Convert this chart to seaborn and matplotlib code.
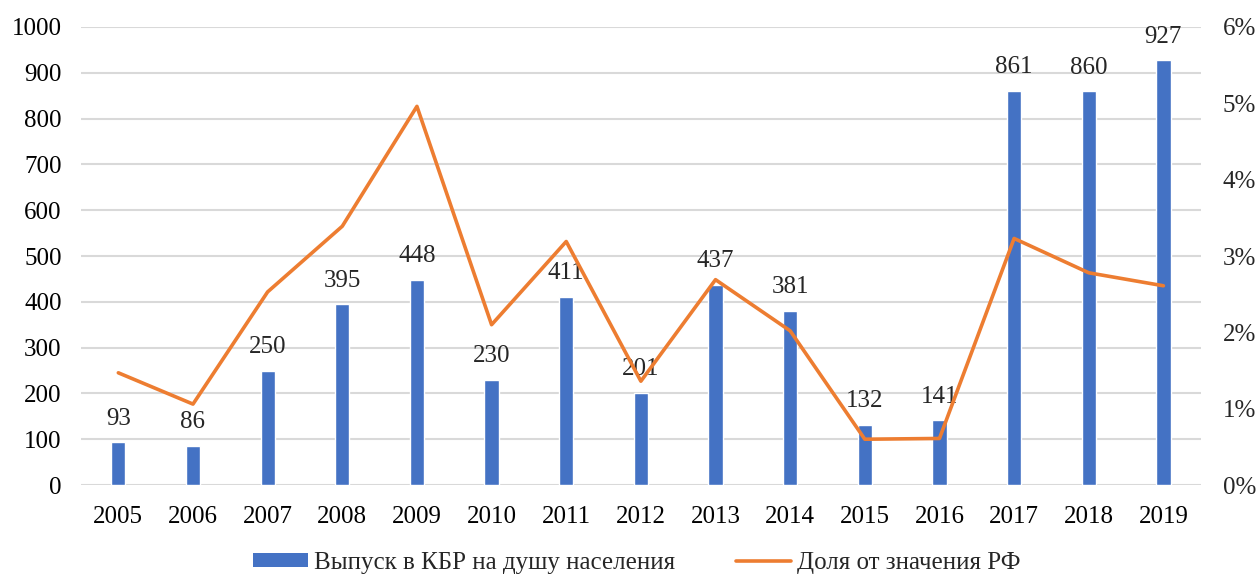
import matplotlib
matplotlib.use("Agg")
import matplotlib.pyplot as plt
import seaborn as sns
import pandas as pd
from matplotlib.ticker import PercentFormatter, MultipleLocator
from matplotlib.patches import Patch
from matplotlib.lines import Line2D

years = ["2005", "2006", "2007", "2008", "2009", "2010", "2011", "2012",
         "2013", "2014", "2015", "2016", "2017", "2018", "2019"]
output_per_capita = [93, 86, 250, 395, 448, 230, 411, 201, 437, 381, 132, 141, 861, 860, 927]
share_rf = [1.47, 1.06, 2.53, 3.39, 4.96, 2.10, 3.19, 1.36, 2.69, 2.02, 0.60, 0.61, 3.23, 2.78, 2.61]

bar_label = "Выпуск в КБР на душу населения"
line_label = "Доля от значения РФ"

df = pd.DataFrame({"year": years, "value": output_per_capita, "share": share_rf})

sns.set_style("white")
plt.rcParams["font.family"] = ["Liberation Serif", "DejaVu Serif"]

BLUE = "#4472C4"
ORANGE = "#ED7D31"
GRID = "#D9D9D9"
FS = 18

fig = plt.figure(figsize=(12.56, 5.79), dpi=100)
ax = fig.add_axes([0.0645, 0.1623, 0.8915, 0.7911])

sns.barplot(data=df, x="year", y="value", color=BLUE, width=0.19,
            saturation=1, ax=ax, zorder=2)
ax.set_ylim(0, 1000)
ax.yaxis.set_major_locator(MultipleLocator(100))
ax.grid(axis="y", color=GRID, linewidth=1.5, zorder=0)
ax.set_axisbelow(True)
for s in ax.spines.values():
    s.set_visible(False)
ax.set_xlabel("")
ax.set_ylabel("")
ax.tick_params(axis="both", length=0, labelsize=FS, colors="black")
ax.tick_params(axis="x", pad=15)
ax.tick_params(axis="y", pad=14)

for i, v in enumerate(output_per_capita):
    ax.annotate(str(v), (i, v), xytext=(0, 9), textcoords="offset points",
                ha="center", va="bottom", fontsize=FS, zorder=5)

ax2 = ax.twinx()
sns.lineplot(data=df, x="year", y="share", color=ORANGE, linewidth=2.6,
             sort=False, ax=ax2, zorder=3)
ax2.set_ylim(0, 6)
ax2.yaxis.set_major_locator(MultipleLocator(1))
ax2.yaxis.set_major_formatter(PercentFormatter(decimals=0))
for s in ax2.spines.values():
    s.set_visible(False)
ax2.set_ylabel("")
ax2.set_xlabel("")
ax2.tick_params(axis="y", length=0, labelsize=FS, pad=16)
ax2.grid(False)
ax.set_xlim(-0.5, len(years) - 0.5)

handles = [Patch(facecolor=BLUE, edgecolor="none"),
           Line2D([0], [0], color=ORANGE, linewidth=2.6)]
fig.legend(handles, [bar_label, line_label], loc="lower center",
           bbox_to_anchor=(0.507, -0.03), ncol=2, frameon=False,
           fontsize=FS, handlelength=2.2, handleheight=0.45, columnspacing=2.4,
           handletextpad=0.25)

fig.savefig("out.png", dpi=100)
